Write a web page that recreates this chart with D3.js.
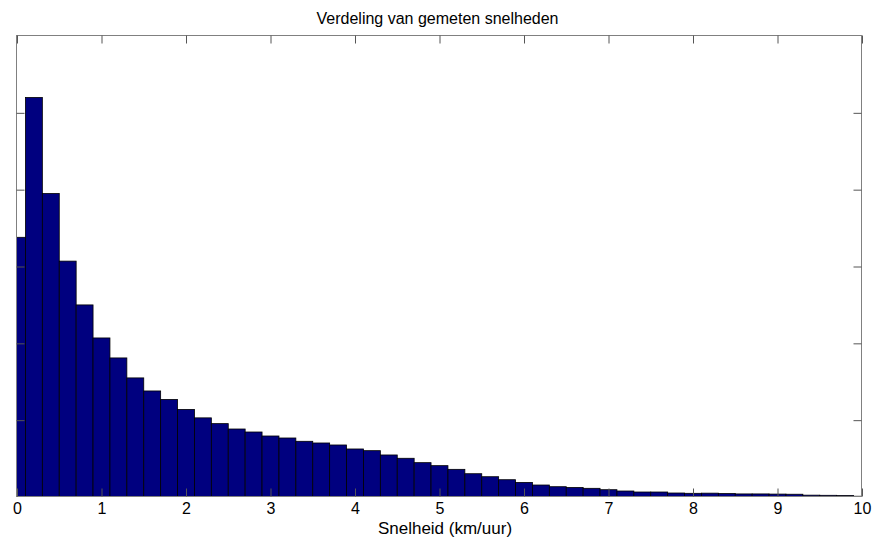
<!DOCTYPE html>
<html>
<head>
<meta charset="utf-8">
<script src="https://cdn.jsdelivr.net/npm/d3@7"></script>
<style>
  html, body { margin: 0; padding: 0; background: #fff; }
  svg { display: block; font-family: "Liberation Sans", Arial, sans-serif; }
</style>
</head>
<body>
<div id="chart"></div>
<script>
// histogram bin centres (km/uur) and counts (arbitrary units, y ticks unlabeled)
const binCenters = d3.range(51).map(i => +(i * 0.2).toFixed(1));
const counts = [
  3.38, 5.20, 3.95, 3.07, 2.50, 2.07, 1.81, 1.55, 1.38, 1.27,
  1.14, 1.03, 0.955, 0.885, 0.846, 0.794, 0.768, 0.725, 0.703, 0.677,
  0.625, 0.603, 0.547, 0.504, 0.447, 0.408, 0.36, 0.303, 0.264, 0.225,
  0.19, 0.156, 0.134, 0.124, 0.113, 0.095, 0.078, 0.065, 0.065, 0.052,
  0.048, 0.05, 0.045, 0.04, 0.04, 0.038, 0.036, 0.024, 0.022, 0.02,
  0.01
];
const xTicks = d3.range(0, 11);
const yTicks = [1, 2, 3, 4, 5];
const binWidth = 0.2;

const title = "Verdeling van gemeten snelheden";
const xLabel = "Snelheid (km/uur)";

const width = 888, height = 538;
const margin = { top: 36, right: 26, bottom: 41, left: 17 };

const svg = d3.select("#chart").append("svg")
  .attr("width", width)
  .attr("height", height);

const x = d3.scaleLinear().domain([0, 10]).range([margin.left, width - margin.right]);
const y = d3.scaleLinear().domain([0, 6]).range([height - margin.bottom, margin.top]);

svg.append("clipPath").attr("id", "plot-clip")
  .append("rect")
  .attr("x", x(0)).attr("y", y(6))
  .attr("width", x(10) - x(0)).attr("height", y(0) - y(6));

// bars
svg.append("g")
  .attr("clip-path", "url(#plot-clip)")
  .selectAll("rect")
  .data(binCenters.map((c, i) => ({ c, v: counts[i] })))
  .join("rect")
  .attr("x", d => x(d.c - binWidth / 2))
  .attr("width", d => x(d.c + binWidth / 2) - x(d.c - binWidth / 2))
  .attr("y", d => y(d.v))
  .attr("height", d => y(0) - y(d.v))
  .attr("fill", "#00007f")
  .attr("stroke", "#000")
  .attr("stroke-width", 0.8);

// frame
svg.append("rect")
  .attr("x", x(0) - 0.5).attr("y", y(6) - 0.5)
  .attr("width", x(10) - x(0)).attr("height", y(0) - y(6))
  .attr("fill", "none")
  .attr("stroke", "#808080")
  .attr("stroke-width", 1);

// axes: ticks on all four sides, pointing inward
const tickLen = 8;
const xAxisBottom = d3.axisBottom(x).tickValues(xTicks).tickSize(-tickLen).tickPadding(6).tickFormat(d3.format("d"));
const xAxisTop = d3.axisTop(x).tickValues(xTicks).tickSize(-tickLen).tickFormat("");
const yAxisLeft = d3.axisLeft(y).tickValues(yTicks).tickSize(-tickLen).tickFormat("");
const yAxisRight = d3.axisRight(y).tickValues(yTicks).tickSize(-tickLen).tickFormat("");

function styleAxis(g) {
  g.select(".domain").remove();
  g.selectAll(".tick line").attr("stroke", "#555");
  g.selectAll(".tick text")
    .attr("fill", "#000")
    .attr("font-size", 16)
    .attr("font-family", "Liberation Sans, Arial, sans-serif");
}

svg.append("g").attr("transform", `translate(0,${y(0) - 0.5})`).call(xAxisBottom).call(styleAxis);
svg.append("g").attr("transform", `translate(0,${y(6) - 0.5})`).call(xAxisTop).call(styleAxis);
svg.append("g").attr("transform", `translate(${x(0) - 0.5},0)`).call(yAxisLeft).call(styleAxis);
svg.append("g").attr("transform", `translate(${x(10) - 0.5},0)`).call(yAxisRight).call(styleAxis);

// title and label
svg.append("text")
  .attr("x", 437.5)
  .attr("y", 24)
  .attr("text-anchor", "middle")
  .attr("font-size", 16)
  .attr("fill", "#000")
  .text(title);

svg.append("text")
  .attr("x", 445)
  .attr("y", 533.5)
  .attr("text-anchor", "middle")
  .attr("font-size", 17)
  .attr("fill", "#000")
  .text(xLabel);
</script>
</body>
</html>
